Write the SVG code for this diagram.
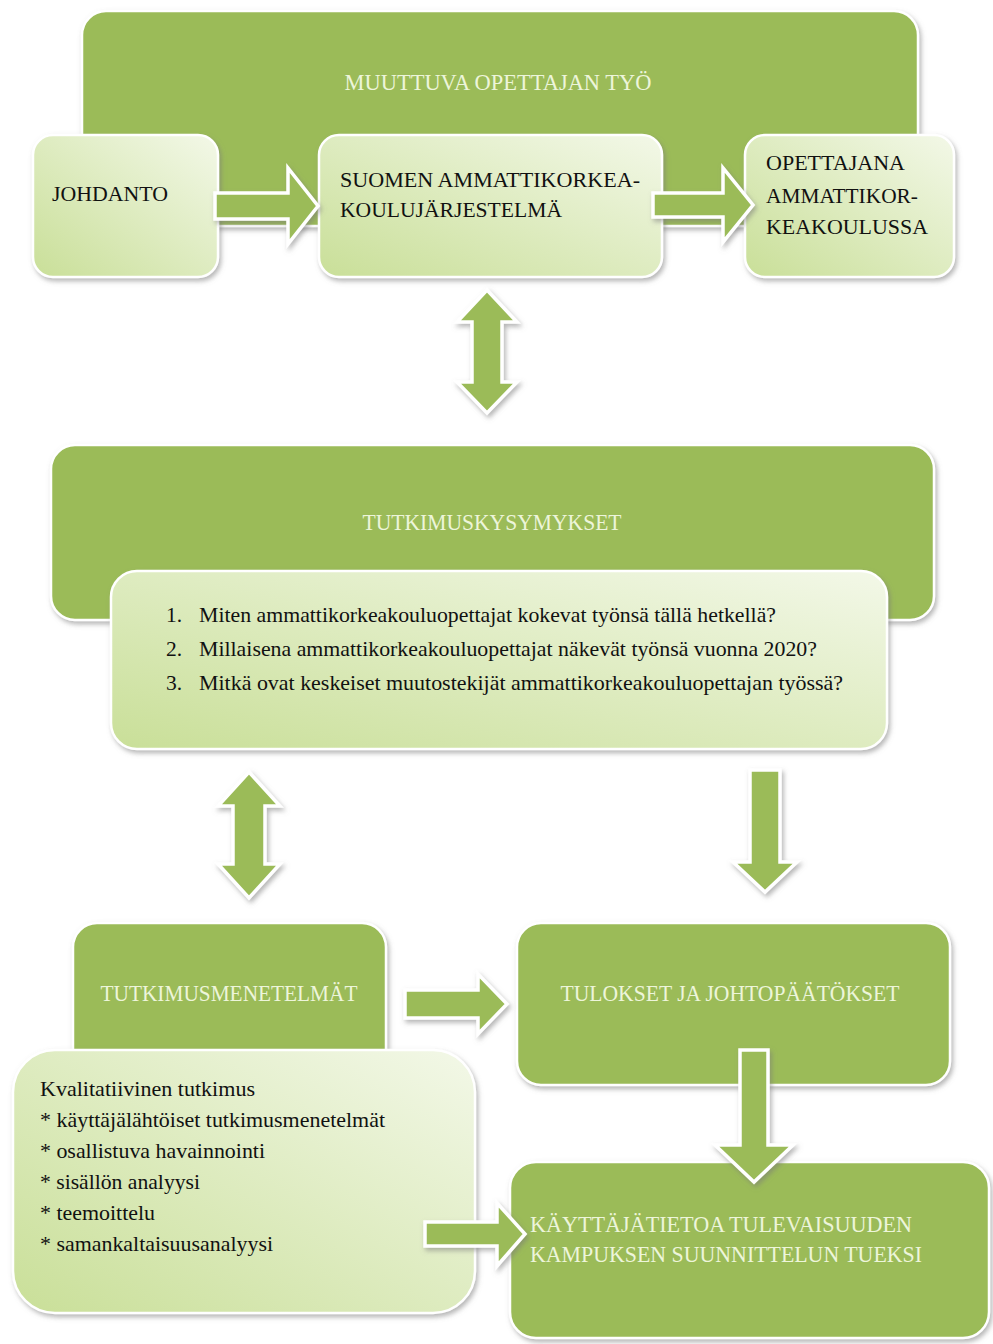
<svg xmlns="http://www.w3.org/2000/svg" width="993" height="1344" viewBox="0 0 993 1344">
<defs>
  <linearGradient id="lg" x1="1" y1="0" x2="0" y2="1">
    <stop offset="0" stop-color="#f3f8e8"/>
    <stop offset="1" stop-color="#c9df98"/>
  </linearGradient>
  <filter id="sh" x="-10%" y="-10%" width="130%" height="130%">
    <feDropShadow dx="2" dy="3" stdDeviation="2.5" flood-color="#7a7a7a" flood-opacity="0.55"/>
  </filter>
  <style>
    .dark{fill:#9bbb59;stroke:#ffffff;stroke-width:2.5;filter:url(#sh)}
    .light{fill:url(#lg);stroke:#ffffff;stroke-width:2.5;filter:url(#sh)}
    .arr{fill:#9bbb59;stroke:#ffffff;stroke-width:3.5;stroke-linejoin:miter;filter:url(#sh)}
    .tw{font-family:"Liberation Serif","Times New Roman",serif;font-size:23px;fill:#edf5da}
    .tb{font-family:"Liberation Serif","Times New Roman",serif;font-size:22px;fill:#111111}
    .tq{font-family:"Liberation Serif","Times New Roman",serif;font-size:21.5px;fill:#111111}
  </style>
</defs>
<rect width="993" height="1344" fill="#ffffff"/>

<g id="n-muuttuva">
  <rect class="dark" x="82" y="11" width="836" height="215" rx="24"/>
  <text class="tw" x="498" y="90" text-anchor="middle" textLength="307" lengthAdjust="spacingAndGlyphs">MUUTTUVA OPETTAJAN TYÖ</text>
</g>
<g id="n-johdanto">
  <rect class="light" x="33" y="135" width="185" height="142" rx="20"/>
  <text class="tb" x="52" y="201" textLength="116" lengthAdjust="spacingAndGlyphs">JOHDANTO</text>
</g>
<g id="n-suomen">
  <rect class="light" x="319" y="135" width="343" height="142" rx="20"/>
  <text class="tb" x="340" y="187" textLength="300" lengthAdjust="spacingAndGlyphs">SUOMEN AMMATTIKORKEA-</text>
  <text class="tb" x="340" y="217" textLength="222" lengthAdjust="spacingAndGlyphs">KOULUJÄRJESTELMÄ</text>
</g>
<g id="n-opettajana">
  <rect class="light" x="745" y="135" width="209" height="142" rx="20"/>
  <text class="tb" x="766" y="170" textLength="139" lengthAdjust="spacingAndGlyphs">OPETTAJANA</text>
  <text class="tb" x="766" y="203" textLength="152" lengthAdjust="spacingAndGlyphs">AMMATTIKOR-</text>
  <text class="tb" x="766" y="234" textLength="162" lengthAdjust="spacingAndGlyphs">KEAKOULUSSA</text>
</g>

<g id="n-tutkimuskysymykset">
  <rect class="dark" x="51" y="445" width="883" height="175" rx="24"/>
  <text class="tw" x="492" y="530" text-anchor="middle" textLength="259" lengthAdjust="spacingAndGlyphs">TUTKIMUSKYSYMYKSET</text>
</g>
<g id="n-kysymykset">
  <rect class="light" x="111" y="571" width="776" height="178" rx="26"/>
  <text class="tq" x="166" y="622">1.</text>
  <text class="tq" x="199" y="622" textLength="577" lengthAdjust="spacingAndGlyphs">Miten ammattikorkeakouluopettajat kokevat työnsä tällä hetkellä?</text>
  <text class="tq" x="166" y="656">2.</text>
  <text class="tq" x="199" y="656" textLength="618" lengthAdjust="spacingAndGlyphs">Millaisena ammattikorkeakouluopettajat näkevät työnsä vuonna 2020?</text>
  <text class="tq" x="166" y="690">3.</text>
  <text class="tq" x="199" y="690" textLength="644" lengthAdjust="spacingAndGlyphs">Mitkä ovat keskeiset muutostekijät ammattikorkeakouluopettajan työssä?</text>
</g>

<g id="n-tutkimusmenetelmat">
  <rect class="dark" x="73" y="923" width="313" height="150" rx="24"/>
  <text class="tw" x="229" y="1001" text-anchor="middle" textLength="257" lengthAdjust="spacingAndGlyphs">TUTKIMUSMENETELMÄT</text>
</g>
<g id="n-tulokset">
  <rect class="dark" x="517" y="923" width="433" height="162" rx="24"/>
  <text class="tw" x="730" y="1001" text-anchor="middle" textLength="339" lengthAdjust="spacingAndGlyphs">TULOKSET JA JOHTOPÄÄTÖKSET</text>
</g>
<g id="n-kvalitatiivinen">
  <rect class="light" x="13" y="1050" width="462" height="263" rx="42"/>
  <text class="tq" x="40" y="1096" textLength="215" lengthAdjust="spacingAndGlyphs">Kvalitatiivinen tutkimus</text>
  <text class="tq" x="40" y="1127" textLength="345" lengthAdjust="spacingAndGlyphs">* käyttäjälähtöiset tutkimusmenetelmät</text>
  <text class="tq" x="40" y="1158" textLength="225" lengthAdjust="spacingAndGlyphs">* osallistuva havainnointi</text>
  <text class="tq" x="40" y="1189" textLength="160" lengthAdjust="spacingAndGlyphs">* sisällön analyysi</text>
  <text class="tq" x="40" y="1220" textLength="115" lengthAdjust="spacingAndGlyphs">* teemoittelu</text>
  <text class="tq" x="40" y="1251" textLength="233" lengthAdjust="spacingAndGlyphs">* samankaltaisuusanalyysi</text>
</g>
<g id="n-kayttajatietoa">
  <rect class="dark" x="510" y="1162" width="479" height="176" rx="26"/>
  <text class="tw" x="530" y="1232" textLength="382" lengthAdjust="spacingAndGlyphs">KÄYTTÄJÄTIETOA TULEVAISUUDEN</text>
  <text class="tw" x="530" y="1262" textLength="392" lengthAdjust="spacingAndGlyphs">KAMPUKSEN SUUNNITTELUN TUEKSI</text>
</g>

<g id="connectors">
  <path class="arr" d="M215,193 L288,193 L288,168 L318,206 L288,244 L288,219 L215,219 Z"/>
  <path class="arr" d="M653,193 L723,193 L723,168 L753,205 L723,242 L723,217 L653,217 Z"/>
  <path class="arr" d="M487,290 L517,322 L502,322 L502,382 L517,382 L487,413 L457,382 L472,382 L472,322 L457,322 Z"/>
  <path class="arr" d="M249,772 L280,806 L265,806 L265,864 L280,864 L249,898 L218,864 L233,864 L233,806 L218,806 Z"/>
  <path class="arr" d="M750,770 L780,770 L780,862 L797,862 L765,892 L733,862 L750,862 Z"/>
  <path class="arr" d="M405,990 L478,990 L478,974 L507,1004 L478,1034 L478,1018 L405,1018 Z"/>
  <path class="arr" d="M740,1050 L768,1050 L768,1145 L793,1145 L754,1182 L715,1145 L740,1145 Z"/>
  <path class="arr" d="M425,1222 L497,1222 L497,1203 L525,1234 L497,1266 L497,1246 L425,1246 Z"/>
</g>
</svg>
